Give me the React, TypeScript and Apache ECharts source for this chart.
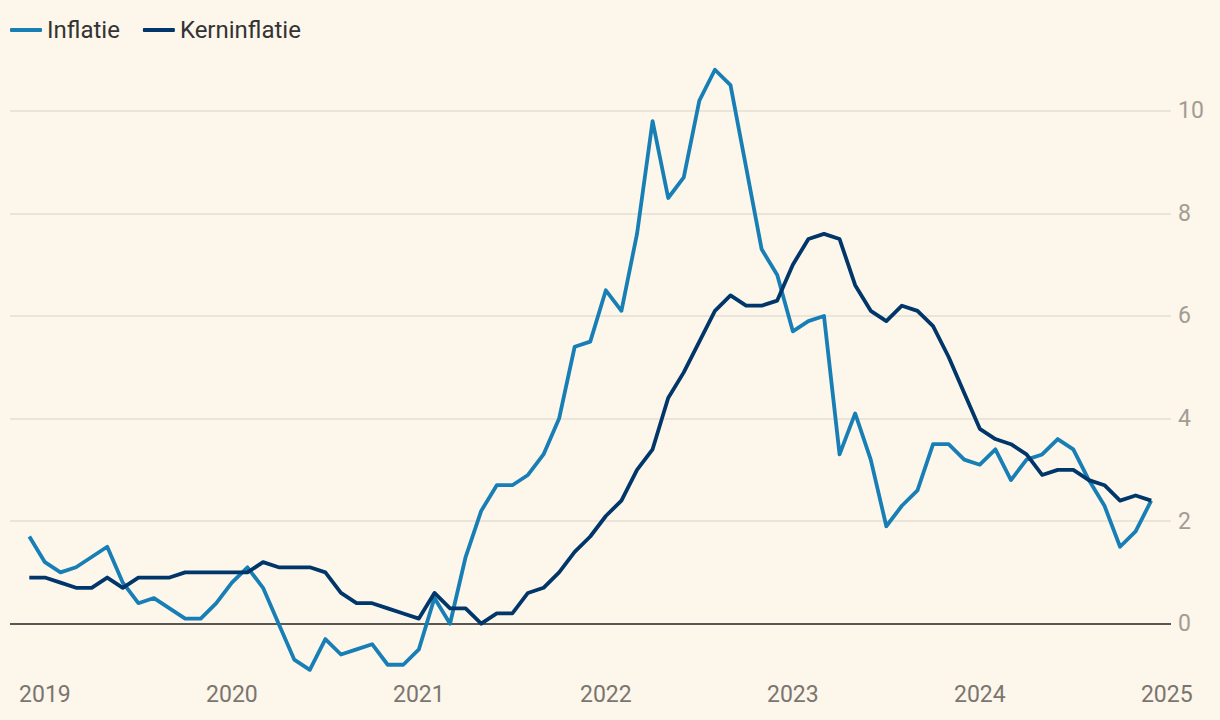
import React, { useEffect, useRef } from "react";
import * as echarts from "echarts";

// Monthly values, Nov 2018 .. Nov 2024 (month-end dates; index 1 = end Dec 2018 ≈ start 2019)
const inflatie: number[] = [
  1.7, 1.2,
  1.0, 1.1, 1.3, 1.5, 0.8, 0.4, 0.5, 0.3, 0.1, 0.1, 0.4, 0.8,
  1.1, 0.7, 0.0, -0.7, -0.9, -0.3, -0.6, -0.5, -0.4, -0.8, -0.8, -0.5,
  0.5, 0.0, 1.3, 2.2, 2.7, 2.7, 2.9, 3.3, 4.0, 5.4, 5.5, 6.5,
  6.1, 7.6, 9.8, 8.3, 8.7, 10.2, 10.8, 10.5, 8.9, 7.3, 6.8, 5.7,
  5.9, 6.0, 3.3, 4.1, 3.2, 1.9, 2.3, 2.6, 3.5, 3.5, 3.2, 3.1,
  3.4, 2.8, 3.2, 3.3, 3.6, 3.4, 2.8, 2.3, 1.5, 1.8, 2.4,
];
const kerninflatie: number[] = [
  0.9, 0.9,
  0.8, 0.7, 0.7, 0.9, 0.7, 0.9, 0.9, 0.9, 1.0, 1.0, 1.0, 1.0,
  1.0, 1.2, 1.1, 1.1, 1.1, 1.0, 0.6, 0.4, 0.4, 0.3, 0.2, 0.1,
  0.6, 0.3, 0.3, 0.0, 0.2, 0.2, 0.6, 0.7, 1.0, 1.4, 1.7, 2.1,
  2.4, 3.0, 3.4, 4.4, 4.9, 5.5, 6.1, 6.4, 6.2, 6.2, 6.3, 7.0,
  7.5, 7.6, 7.5, 6.6, 6.1, 5.9, 6.2, 6.1, 5.8, 5.2, 4.5, 3.8,
  3.6, 3.5, 3.3, 2.9, 3.0, 3.0, 2.8, 2.7, 2.4, 2.5, 2.4,
];
const yearTicks: number[] = [0, 12, 24, 36, 48, 60, 72];
const yearLabels: string[] = ["2019", "2020", "2021", "2022", "2023", "2024", "2025"];
const yTicks: number[] = [0, 2, 4, 6, 8, 10];
const seriesNames: string[] = ["Inflatie", "Kerninflatie"];

const toPoints = (arr: number[]) => arr.map((v, i) => [i - 1, v]);

export default function App() {
  const ref = useRef<HTMLDivElement>(null);
  useEffect(() => {
    document.body.style.margin = "0";
    if (!ref.current) return;
    const chart = echarts.init(ref.current, undefined, { renderer: "svg" });
    const font = "Roboto, 'Noto Sans', sans-serif";
    chart.setOption({
      animation: false,
      backgroundColor: "#fdf6ea",
      textStyle: { fontFamily: font },
      legend: {
        data: seriesNames,
        left: 10,
        top: 18,
        padding: 0,
        icon: "roundRect",
        itemWidth: 32,
        itemHeight: 4,
        itemGap: 23,
        textStyle: { fontSize: 24, color: "#333333", fontFamily: font },
      },
      grid: { left: 10, right: 49, top: 59.5, bottom: 45, containLabel: false },
      xAxis: {
        type: "value",
        min: -2.24,
        max: 72.27,
        axisLine: { show: false },
        axisTick: { show: false },
        splitLine: { show: false },
        axisLabel: {
          customValues: yearTicks,
          formatter: (v: number) => yearLabels[yearTicks.indexOf(Math.round(v))] ?? "",
          fontSize: 23,
          color: "#7a756f",
          margin: 8,
          fontFamily: font,
        },
      },
      yAxis: {
        type: "value",
        position: "right",
        min: -1,
        max: 11,
        axisLine: { show: false },
        axisTick: { show: false, customValues: yTicks },
        axisLabel: {
          customValues: yTicks,
          fontSize: 23,
          color: "#a29c94",
          margin: 7,
          fontFamily: font,
        },
        splitLine: {
          show: true,
          lineStyle: {
            color: ["#222222", "#e5ded3", "#e5ded3", "#e5ded3", "#e5ded3", "#e5ded3"],
            width: 1.6,
          },
        },
      },
      series: [
        {
          name: seriesNames[0],
          type: "line",
          data: toPoints(inflatie),
          showSymbol: false,
          symbol: "none",
          lineStyle: { width: 3.8, color: "#177fb6", join: "round" },
          itemStyle: { color: "#177fb6" },
        },
        {
          name: seriesNames[1],
          type: "line",
          data: toPoints(kerninflatie),
          showSymbol: false,
          symbol: "none",
          lineStyle: { width: 3.8, color: "#00366a", join: "round" },
          itemStyle: { color: "#00366a" },
        },
      ],
    });
    return () => chart.dispose();
  }, []);
  return <div ref={ref} style={{ width: 1220, height: 720 }} />;
}
